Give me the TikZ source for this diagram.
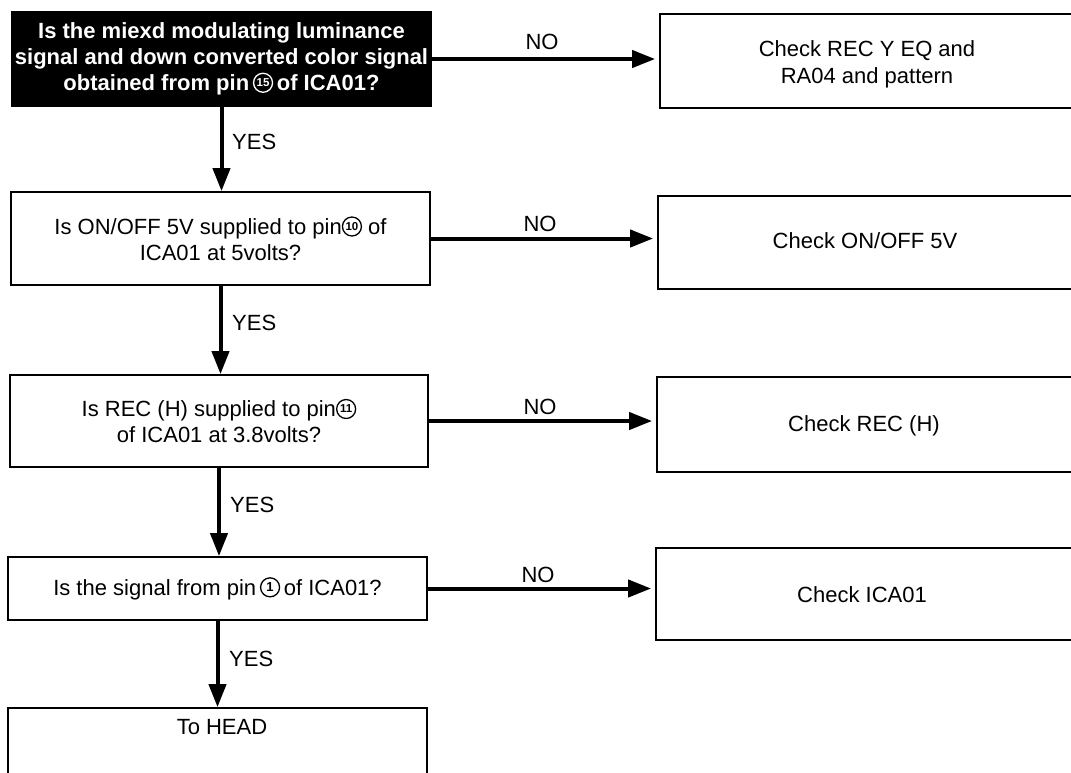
\documentclass[tikz,border=0pt]{standalone}
\usepackage{fontspec}
\setmainfont{Liberation Sans}
\usetikzlibrary{arrows.meta}
\newcommand\cnum[3][black]{\tikz[baseline=-0.36em]\node[circle,draw=#1,text=#1,line width=1.3pt,inner sep=0pt,minimum size=19pt,font=\fontsize{#2}{#2}\selectfont\bfseries]{#3};}
\begin{document}
\begin{tikzpicture}[x=1pt,y=-1pt,
  box/.style={draw,line width=1.7pt,rectangle,inner sep=0pt,align=center,font=\fontsize{22}{26}\selectfont},
  qbox/.style={box,fill=black,text=white,font=\fontsize{22}{26}\selectfont\bfseries},
  txt/.style={align=center,inner sep=0pt,font=\fontsize{22}{27}\selectfont},
  lab/.style={inner sep=0pt,font=\fontsize{22}{24}\selectfont},
  arr/.style={line width=4pt,-{Triangle[length=23pt,width=17pt]}}]
\useasboundingbox (0,0) rectangle (1071,772);
% left column
\node[qbox,minimum width=419pt,minimum height=94pt] (L1) at (221.5,59)
  {Is the miexd modulating luminance\\signal and down converted color signal\\obtained from pin\,\cnum[white]{11.5}{15}\,of ICA01?};
\node[box,minimum width=419pt,minimum height=93pt] (L2) at (220.5,238.5)
  {Is ON/OFF 5V supplied to pin\cnum{11.5}{10} of\\ICA01 at 5volts?};
\node[box,minimum width=418pt,minimum height=92pt] (L3) at (219,421)
  {Is REC (H) supplied to pin\cnum{11.5}{11}\\of ICA01 at 3.8volts?};
\node[box,minimum width=419pt,minimum height=63pt] (L4) at (217.5,588.5)
  {Is the signal from pin\,\cnum{13}{1}\,of ICA01?};
\node[box,minimum width=419pt,minimum height=92pt] (L5) at (217.5,754) {};
\node[txt] (L5t) at (222,727) {To HEAD};
% right column
\node[box,minimum width=432pt,minimum height=94pt] (R1) at (876,61) {};
\node[txt] (R1t) at (867,64) {Check REC Y EQ and\\RA04 and pattern};
\node[box,minimum width=434pt,minimum height=93pt] (R2) at (875,242.5) {};
\node[txt] (R2t) at (865,241) {Check ON/OFF 5V};
\node[box,minimum width=436pt,minimum height=95pt] (R3) at (875,424.5) {};
\node[txt] (R3t) at (864,426) {Check REC (H)};
\node[box,minimum width=438pt,minimum height=92pt] (R4) at (875,594) {};
\node[txt] (R4t) at (862,595) {Check ICA01};
% YES arrows
\draw[arr] (L1.south) -- (L1.south |- L2.north);
\draw[arr] (L2.south) -- (L2.south |- L3.north);
\draw[arr] (L3.south) -- (L3.south |- L4.north);
\draw[arr] (L4.south) -- (L4.south |- L5.north);
\node[lab,anchor=west] (y1) at (232,142) {YES};
\node[lab,anchor=west] (y2) at (232,323) {YES};
\node[lab,anchor=west] (y3) at (230,505) {YES};
\node[lab,anchor=west] (y4) at (229,659) {YES};
% NO arrows
\draw[arr,shorten >=4pt] (L1.east) -- (L1.east -| R1.west);
\draw[arr,shorten >=4pt] (L2.east) -- (L2.east -| R2.west);
\draw[arr,shorten >=4pt] (L3.east) -- (L3.east -| R3.west);
\draw[arr,shorten >=4pt] (L4.east) -- (L4.east -| R4.west);
\node[lab] (n1) at (542,42) {NO};
\node[lab] (n2) at (540,224) {NO};
\node[lab] (n3) at (540,407) {NO};
\node[lab] (n4) at (538,575) {NO};
\end{tikzpicture}
\end{document}
